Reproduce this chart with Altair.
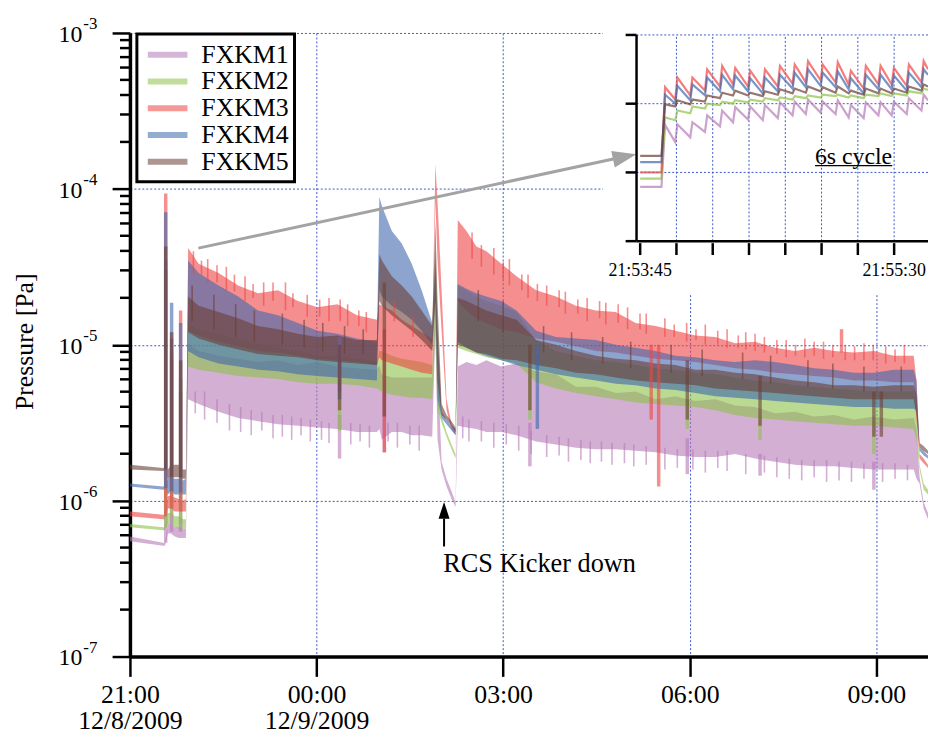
import altair as alt
import numpy as np
import pandas as pd

FONT = "Liberation Serif"
GRID = "#3a58c8"
SERIES = ["FXKM1", "FXKM2", "FXKM3", "FXKM4", "FXKM5"]
COLORS = ["#b57ab5", "#8cc24a", "#ee4444", "#3f68ad", "#6b3f35"]

# ---- main panel: hours after 21:00 (12/8/2009) ----
T = [0.00, 0.535, 0.565, 0.61, 0.66, 0.72, 0.785, 0.85, 0.90,
     0.935, 1.105, 1.425, 1.74, 2.06, 2.38, 2.70, 3.015, 3.335, 3.65, 3.97,
     4.01, 4.05, 4.21, 4.37, 4.53, 4.69, 4.86,
     4.91, 4.945, 5.01, 5.09, 5.17, 5.235,
     5.27, 5.41, 5.57, 5.73, 5.97, 6.215, 6.53, 6.85, 7.17, 7.49, 7.81, 8.13, 8.45,
     8.77, 9.09, 9.41, 9.73, 10.05, 10.37, 10.69, 11.00, 11.32, 11.64, 11.96, 12.28, 12.60,
     12.645, 12.695, 12.76, 12.83]

# log10 of pressure [Pa]: upper / lower edge of each (noisy) trace
HI = {
    "FXKM1": [-6.23, -6.27, -6.27, -6.15, -6.15, -6.17, -6.17, -6.18, -6.18,
              -4.99, -5.04, -5.07, -5.09, -5.11, -5.10, -5.13, -5.11, -5.14, -5.15, -5.16,
              -5.13, -5.19, -5.21, -5.21, -5.21, -5.21, -5.21,
              -4.51, -5.10, -5.75, -5.86, -5.94, -6.01,
              -5.14, -5.11, -5.13, -5.10, -5.14, -5.12, -5.17, -5.19, -5.27, -5.27, -5.31, -5.30, -5.35,
              -5.33, -5.36, -5.35, -5.39, -5.40, -5.44, -5.43, -5.46, -5.45, -5.48, -5.46, -5.48, -5.47,
              -5.54, -5.85, -6.01, -6.08],
    "FXKM2": [-6.15, -6.17, -6.17, -6.08, -6.08, -6.10, -6.10, -6.12, -6.12,
              -4.86, -4.90, -4.93, -4.96, -4.99, -5.02, -5.04, -5.07, -5.07, -5.09, -5.11,
              -5.04, -5.04, -5.07, -5.09, -5.10, -5.11, -5.13,
              -4.38, -4.91, -5.46, -5.56, -5.64, -5.70,
              -4.62, -4.65, -4.69, -4.72, -4.75, -4.79, -4.97, -5.04, -5.07, -5.10, -5.11, -5.13, -5.15,
              -5.16, -5.18, -5.19, -5.21, -5.23, -5.24, -5.26, -5.27, -5.28, -5.29, -5.30, -5.30, -5.30,
              -5.42, -5.77, -5.89, -5.93],
    "FXKM3": [-6.07, -6.09, -6.09, -5.97, -5.97, -5.98, -5.99, -6.00, -5.99,
              -4.38, -4.48, -4.54, -4.62, -4.67, -4.65, -4.72, -4.76, -4.74, -4.81, -4.84,
              -4.74, -4.75, -4.78, -4.84, -4.88, -4.92, -4.96,
              -3.84, -4.08, -4.65, -5.35, -5.51, -5.55,
              -4.20, -4.27, -4.37, -4.40, -4.48, -4.56, -4.65, -4.69, -4.75, -4.78, -4.79, -4.86, -4.88,
              -4.91, -4.94, -4.95, -4.99, -4.98, -5.02, -5.04, -5.02, -5.04, -5.05, -5.04, -5.07, -5.07,
              -5.23, -5.70, -5.73, -5.77],
    "FXKM4": [-5.89, -5.91, -5.91, -5.86, -5.85, -5.86, -5.86, -5.87, -5.86,
              -4.46, -4.54, -4.62, -4.69, -4.78, -4.81, -4.86, -4.91, -4.93, -4.96, -4.98,
              -4.05, -4.11, -4.27, -4.35, -4.48, -4.65, -4.86,
              -4.48, -4.91, -5.43, -5.48, -5.52, -5.54,
              -4.61, -4.64, -4.67, -4.69, -4.72, -4.78, -4.91, -4.95, -4.96, -4.97, -5.00, -5.02, -5.04,
              -5.07, -5.08, -5.10, -5.11, -5.10, -5.11, -5.13, -5.15, -5.16, -5.18, -5.18, -5.16, -5.16,
              -5.23, -5.66, -5.68, -5.71],
    "FXKM5": [-5.77, -5.79, -5.79, -5.80, -5.77, -5.77, -5.77, -5.80, -5.80,
              -4.69, -4.75, -4.79, -4.83, -4.88, -4.90, -4.93, -4.95, -4.94, -4.97, -4.97,
              -4.42, -4.46, -4.56, -4.62, -4.69, -4.78, -4.88,
              -4.21, -4.72, -5.38, -5.45, -5.49, -5.53,
              -4.70, -4.72, -4.75, -4.78, -4.81, -4.84, -4.97, -5.00, -5.04, -5.07, -5.09, -5.10, -5.12,
              -5.13, -5.16, -5.16, -5.18, -5.19, -5.21, -5.23, -5.24, -5.26, -5.26, -5.27, -5.26, -5.26,
              -5.32, -5.63, -5.65, -5.68],
}
LO = {
    "FXKM1": [-6.26, -6.29, -6.29, -6.21, -6.21, -6.23, -6.24, -6.24, -6.24,
              -5.35, -5.38, -5.43, -5.47, -5.49, -5.51, -5.52, -5.53, -5.54, -5.56, -5.56,
              -5.54, -5.61, -5.56, -5.56, -5.58, -5.58, -5.59,
              -4.91, -5.61, -5.80, -5.91, -5.99, -6.04,
              -5.52, -5.53, -5.54, -5.56, -5.56, -5.58, -5.62, -5.64, -5.66, -5.67, -5.67, -5.68, -5.69,
              -5.71, -5.72, -5.72, -5.70, -5.73, -5.75, -5.77, -5.78, -5.78, -5.79, -5.80, -5.80, -5.80,
              -5.86, -5.89, -6.05, -6.12],
    "FXKM2": [-6.17, -6.19, -6.19, -6.15, -6.15, -6.17, -6.18, -6.18, -6.18,
              -5.14, -5.16, -5.18, -5.20, -5.21, -5.22, -5.24, -5.25, -5.25, -5.26, -5.28,
              -5.29, -5.30, -5.32, -5.33, -5.34, -5.34, -5.35,
              -4.91, -5.42, -5.50, -5.59, -5.67, -5.73,
              -5.02, -5.04, -5.06, -5.08, -5.10, -5.12, -5.24, -5.28, -5.31, -5.33, -5.35, -5.37, -5.38,
              -5.39, -5.40, -5.42, -5.45, -5.47, -5.48, -5.49, -5.50, -5.51, -5.52, -5.52, -5.53, -5.54,
              -5.61, -5.80, -5.93, -5.96],
    "FXKM3": [-6.10, -6.12, -6.12, -6.05, -6.05, -6.07, -6.07, -6.07, -6.07,
              -4.91, -4.94, -4.98, -5.01, -5.04, -5.05, -5.07, -5.09, -5.10, -5.11, -5.13,
              -5.08, -5.10, -5.12, -5.14, -5.16, -5.18, -5.19,
              -4.08, -4.46, -4.91, -5.42, -5.54, -5.58,
              -4.72, -4.78, -4.83, -4.86, -4.90, -4.92, -4.96, -4.98, -5.01, -5.04, -5.05, -5.07, -5.09,
              -5.10, -5.11, -5.13, -5.15, -5.16, -5.18, -5.19, -5.20, -5.21, -5.23, -5.23, -5.24, -5.24,
              -5.48, -5.73, -5.76, -5.79],
    "FXKM4": [-5.91, -5.93, -5.93, -5.96, -5.94, -5.96, -5.96, -5.96, -5.96,
              -5.04, -5.08, -5.12, -5.14, -5.16, -5.17, -5.19, -5.20, -5.21, -5.22, -5.23,
              -4.65, -4.69, -4.75, -4.79, -4.84, -4.91, -5.00,
              -4.72, -5.35, -5.47, -5.51, -5.55, -5.58,
              -4.98, -5.02, -5.05, -5.07, -5.10, -5.13, -5.16, -5.19, -5.21, -5.23, -5.25, -5.26, -5.28,
              -5.29, -5.31, -5.33, -5.34, -5.35, -5.36, -5.37, -5.38, -5.39, -5.40, -5.40, -5.41, -5.41,
              -5.42, -5.68, -5.71, -5.73],
    "FXKM5": [-5.80, -5.81, -5.81, -5.86, -5.85, -5.85, -5.85, -5.86, -5.86,
              -4.92, -4.96, -5.00, -5.03, -5.06, -5.07, -5.08, -5.10, -5.11, -5.12, -5.13,
              -4.72, -4.75, -4.81, -4.86, -4.91, -4.97, -5.04,
              -4.72, -5.23, -5.45, -5.48, -5.52, -5.56,
              -5.00, -5.02, -5.05, -5.06, -5.09, -5.10, -5.13, -5.15, -5.18, -5.19, -5.21, -5.23, -5.24,
              -5.25, -5.26, -5.28, -5.29, -5.30, -5.31, -5.32, -5.33, -5.34, -5.35, -5.35, -5.35, -5.35,
              -5.45, -5.66, -5.68, -5.70],
}

# isolated spikes / dips (hours, log10 from, log10 to)
SPIKE_SERIES = ["FXKM1", "FXKM2", "FXKM3", "FXKM4", "FXKM5",
                "FXKM1", "FXKM2", "FXKM3", "FXKM4", "FXKM5",
                "FXKM1", "FXKM2", "FXKM3", "FXKM4", "FXKM5",
                "FXKM1", "FXKM2", "FXKM3", "FXKM4", "FXKM5",
                "FXKM1", "FXKM3", "FXKM5",
                "FXKM1", "FXKM2", "FXKM5", "FXKM4", "FXKM3", "FXKM3",
                "FXKM1", "FXKM2", "FXKM5", "FXKM1", "FXKM2", "FXKM5",
                "FXKM3", "FXKM1", "FXKM2", "FXKM5", "FXKM5"]
SPIKE_T = [0.575, 0.575, 0.575, 0.575, 0.575,
           0.67, 0.67, 0.67, 0.67, 0.67,
           0.815, 0.815, 0.815, 0.815, 0.815,
           3.37, 3.37, 3.37, 3.37, 3.37,
           4.09, 4.09, 4.09,
           6.43, 6.43, 6.43, 6.55, 8.38, 8.50,
           8.96, 8.96, 8.96, 10.13, 10.13, 10.13,
           11.44, 11.96, 11.96, 11.96, 12.08]
SPIKE_FROM = [-6.27, -6.17, -6.10, -5.92, -5.80,
              -6.20, -6.10, -6.05, -5.94, -5.85,
              -6.20, -6.15, -6.07, -5.95, -5.85,
              -5.45, -5.20, -4.95, -4.95, -5.00,
              -5.30, -4.90, -4.60,
              -5.50, -5.20, -5.00, -5.00, -5.00, -5.00,
              -5.60, -5.35, -5.10, -5.70, -5.45, -5.20,
              -5.05, -5.75, -5.50, -5.30, -5.30]
SPIKE_TO = [-4.52, -4.46, -4.03, -4.15, -4.37,
            -5.10, -5.05, -4.96, -4.73, -4.92,
            -5.30, -5.22, -4.78, -4.86, -5.10,
            -5.73, -5.55, -5.30, -5.35, -5.42,
            -5.69, -5.69, -5.46,
            -5.78, -5.48, -5.42, -5.54, -5.48, -5.91,
            -5.83, -5.54, -5.48, -5.84, -5.61, -5.52,
            -4.90, -5.93, -5.70, -5.59, -5.59]

# fine noise excursions at the visible band edges (hours, log10 from, log10 to)
NOISE_FXKM3_T = [1.02, 1.25, 1.55, 1.85, 2.15, 2.50, 2.85, 3.20, 3.50, 3.80, 4.25, 4.55,
                 5.50, 5.85, 6.10, 6.40, 6.70, 7.00, 7.35, 7.65, 8.00, 8.30, 8.60, 8.95,
                 9.25, 9.60, 9.90, 10.20, 10.55, 10.85, 11.15, 11.50, 11.80, 12.15, 12.45,
                 1.15, 1.40, 1.68, 1.98, 2.30, 2.62, 3.05, 3.38, 3.68,
                 5.65, 6.00, 6.30, 6.55, 6.90, 7.20, 7.55, 7.85, 8.20, 8.75, 9.10, 9.45,
                 9.78, 10.05, 10.40, 10.70, 11.00, 11.30, 11.65, 11.95, 12.30]
NOISE_FXKM3_FROM = [-4.55, -4.60, -4.65, -4.72, -4.75, -4.78, -4.82, -4.85, -4.88, -4.92, -4.85, -4.95,
                    -4.45, -4.55, -4.62, -4.70, -4.75, -4.80, -4.85, -4.87, -4.90, -4.93, -4.95, -4.98,
                    -5.00, -5.02, -5.03, -5.05, -5.08, -5.08, -5.09, -5.10, -5.10, -5.12, -5.12,
                    -4.55, -4.60, -4.66, -4.70, -4.72, -4.76, -4.82, -4.85, -4.88,
                    -4.50, -4.58, -4.65, -4.72, -4.76, -4.80, -4.83, -4.86, -4.90, -4.95, -4.97, -5.00,
                    -5.02, -5.04, -5.06, -5.07, -5.07, -5.08, -5.10, -5.10, -5.11]
NOISE_FXKM3_TO = [-4.40, -4.45, -4.50, -4.56, -4.60, -4.60, -4.68, -4.70, -4.74, -4.79, -4.72, -4.82,
                  -4.28, -4.38, -4.45, -4.55, -4.62, -4.66, -4.70, -4.73, -4.76, -4.80, -4.83, -4.86,
                  -4.87, -4.90, -4.92, -4.95, -4.97, -4.96, -4.98, -5.00, -4.99, -5.01, -5.00,
                  -4.46, -4.49, -4.55, -4.61, -4.60, -4.67, -4.71, -4.71, -4.78,
                  -4.36, -4.47, -4.55, -4.61, -4.65, -4.71, -4.72, -4.74, -4.80, -4.87, -4.90, -4.91,
                  -4.94, -4.93, -4.97, -5.00, -4.98, -5.00, -5.01, -5.00, -5.03]
NOISE_FXKM1_T = [1.20, 1.60, 1.95, 2.30, 2.60, 2.90, 3.20, 3.55, 3.85, 4.30, 4.65,
                 5.45, 5.85, 6.25, 6.70, 7.05, 7.40, 7.75, 8.10, 8.60, 9.25, 9.60,
                 10.40, 10.80, 11.20, 11.60, 12.30,
                 1.05, 1.40, 1.78, 2.12, 2.45, 2.75, 3.08, 3.70, 4.15, 4.50,
                 5.35, 5.65, 6.05, 6.45, 6.90, 7.25, 7.58, 7.95, 8.30, 8.80, 9.05, 9.45,
                 9.90, 10.20, 10.60, 11.00, 11.40, 11.80, 12.10, 12.50]
NOISE_FXKM1_FROM = [-5.30, -5.38, -5.42, -5.45, -5.46, -5.48, -5.50, -5.50, -5.52, -5.50, -5.52,
                    -5.48, -5.50, -5.52, -5.58, -5.60, -5.62, -5.63, -5.64, -5.66, -5.68, -5.68,
                    -5.72, -5.74, -5.74, -5.75, -5.76,
                    -5.30, -5.35, -5.40, -5.43, -5.45, -5.47, -5.49, -5.51, -5.50, -5.52,
                    -5.46, -5.49, -5.51, -5.55, -5.59, -5.61, -5.62, -5.63, -5.65, -5.67, -5.67, -5.68,
                    -5.70, -5.71, -5.73, -5.74, -5.75, -5.76, -5.76, -5.77]
NOISE_FXKM1_TO = [-5.48, -5.55, -5.58, -5.60, -5.61, -5.62, -5.63, -5.64, -5.66, -5.66, -5.68,
                  -5.62, -5.66, -5.68, -5.72, -5.75, -5.76, -5.77, -5.78, -5.80, -5.82, -5.81,
                  -5.85, -5.87, -5.88, -5.88, -5.86,
                  -5.44, -5.50, -5.56, -5.55, -5.59, -5.58, -5.61, -5.62, -5.62, -5.64,
                  -5.60, -5.62, -5.64, -5.70, -5.71, -5.74, -5.75, -5.76, -5.77, -5.79, -5.80, -5.79,
                  -5.83, -5.82, -5.86, -5.85, -5.87, -5.86, -5.88, -5.87]
NOISE_FXKM5_T = [1.00, 1.35, 1.70, 2.00, 2.45, 2.80, 3.10, 3.45, 3.75,
                 5.60, 6.00, 6.65, 7.10, 7.60, 8.05, 8.70, 9.20, 9.85, 10.30, 10.90,
                 11.30, 11.80, 12.40]
NOISE_FXKM5_FROM = [-4.85, -4.90, -4.95, -4.98, -5.00, -5.02, -5.04, -5.06, -5.06,
                    -4.85, -4.92, -5.05, -5.10, -5.12, -5.15, -5.18, -5.20, -5.22, -5.25, -5.27,
                    -5.28, -5.30, -5.30]
NOISE_FXKM5_TO = [-4.62, -4.68, -4.74, -4.78, -4.80, -4.84, -4.86, -4.88, -4.90,
                  -4.65, -4.72, -4.88, -4.92, -4.95, -4.98, -5.00, -5.03, -5.05, -5.07, -5.10,
                  -5.12, -5.14, -5.14]

DECADES = [-7, -6, -5, -4, -3]
EXP_LABELS = ["-7", "-6", "-5", "-4", "-3"]
MINOR_MULT = [2, 3, 4, 5, 6, 7, 8, 9]
XTICK_H = [0, 3, 6, 9, 12]
XTICK_TIME = ["21:00", "00:00", "03:00", "06:00", "09:00"]
XTICK_DATE = ["12/8/2009", "12/9/2009", "", "", ""]

# ---- inset: seconds after 21:53:45 ----
INSET_PEAK_T = [10.3, 15.4, 21.6, 27.7, 33.9, 39.3, 45.5, 51.6, 57.8, 63.9,
                69.4, 75.5, 81.7, 87.1, 93.3, 99.4, 104.9, 111.1, 117.2]
INSET_TROUGH_T = [14.5, 20.7, 26.8, 33.0, 38.4, 44.6, 50.7, 56.9, 63.0,
                  68.5, 74.6, 80.8, 86.2, 92.4, 98.5, 104.0, 110.2, 116.3]
INSET_START_T, INSET_STEP_T, INSET_END_T = 0.0, 8.8, 119.0
INSET_BASE = {"FXKM1": -6.21, "FXKM2": -6.09, "FXKM3": -6.00, "FXKM4": -5.85, "FXKM5": -5.76}
INSET_PEAK = {
    "FXKM1": [-5.31, -5.30, -5.27, -5.17, -5.10, -5.05, -5.04, -5.02, -4.98, -4.97,
              -4.94, -4.97, -4.95, -5.02, -4.98, -4.98, -4.97, -4.92, -4.87],
    "FXKM2": [-5.20, -5.10, -5.04, -5.00, -4.97, -4.95, -4.94, -4.92, -4.91, -4.89,
              -4.88, -4.87, -4.87, -4.88, -4.87, -4.85, -4.85, -4.82, -4.78],
    "FXKM3": [-4.76, -4.62, -4.62, -4.50, -4.45, -4.48, -4.52, -4.50, -4.45, -4.43,
              -4.38, -4.43, -4.40, -4.52, -4.45, -4.45, -4.48, -4.43, -4.38],
    "FXKM4": [-4.87, -4.74, -4.72, -4.62, -4.58, -4.59, -4.63, -4.62, -4.58, -4.55,
              -4.50, -4.55, -4.53, -4.63, -4.58, -4.58, -4.59, -4.55, -4.50],
    "FXKM5": [-5.01, -4.95, -4.94, -4.88, -4.84, -4.81, -4.84, -4.82, -4.79, -4.78,
              -4.75, -4.76, -4.75, -4.81, -4.78, -4.78, -4.78, -4.75, -4.72],
}
INSET_TROUGH = {
    "FXKM1": [-5.56, -5.49, -5.41, -5.33, -5.27, -5.23, -5.24, -5.21, -5.17,
              -5.15, -5.13, -5.15, -5.20, -5.21, -5.17, -5.17, -5.15, -5.10],
    "FXKM2": [-5.24, -5.14, -5.07, -5.02, -5.00, -4.98, -4.97, -4.95, -4.94,
              -4.92, -4.91, -4.89, -4.91, -4.92, -4.89, -4.89, -4.88, -4.85],
    "FXKM3": [-4.94, -4.88, -4.81, -4.75, -4.72, -4.75, -4.78, -4.75, -4.71,
              -4.69, -4.66, -4.69, -4.72, -4.78, -4.72, -4.72, -4.74, -4.69],
    "FXKM4": [-5.00, -4.95, -4.88, -4.82, -4.79, -4.82, -4.85, -4.82, -4.78,
              -4.76, -4.74, -4.76, -4.79, -4.85, -4.79, -4.79, -4.81, -4.76],
    "FXKM5": [-5.04, -5.01, -4.97, -4.92, -4.88, -4.88, -4.89, -4.87, -4.85,
              -4.84, -4.82, -4.84, -4.85, -4.87, -4.85, -4.85, -4.84, -4.81],
}
INSET_END = {"FXKM1": -4.95, "FXKM2": -4.80, "FXKM3": -4.50, "FXKM4": -4.58, "FXKM5": -4.75}
INSET_TICKS = [0, 15, 30, 45, 60, 75, 90, 105]
INSET_TICK_LABELS = ["21:53:45", "", "", "", "", "", "", "21:55:30"]
INSET_DECADES = [-7, -6, -5, -4]

# ================= data frames =================
band = pd.DataFrame([
    {"series": s, "h": t, "lo": 10.0 ** lo, "hi": 10.0 ** hi}
    for s in SERIES for t, lo, hi in zip(T, LO[s], HI[s])
])
spikes = pd.DataFrame({"series": SPIKE_SERIES, "h": SPIKE_T,
                       "a": np.power(10.0, SPIKE_FROM), "b": np.power(10.0, SPIKE_TO)})
noise = pd.concat([
    pd.DataFrame({"series": name, "h": t, "a": np.power(10.0, f), "b": np.power(10.0, to)})
    for name, t, f, to in [
        ("FXKM1", NOISE_FXKM1_T, NOISE_FXKM1_FROM, NOISE_FXKM1_TO),
        ("FXKM3", NOISE_FXKM3_T, NOISE_FXKM3_FROM, NOISE_FXKM3_TO),
        ("FXKM5", NOISE_FXKM5_T, NOISE_FXKM5_FROM, NOISE_FXKM5_TO),
    ]
], ignore_index=True)

inset_rows = []
for s in SERIES:
    pts = [(INSET_START_T, INSET_BASE[s]), (INSET_STEP_T, INSET_BASE[s])]
    for i, (tp, vp) in enumerate(zip(INSET_PEAK_T, INSET_PEAK[s])):
        pts.append((tp, vp))
        if i < len(INSET_TROUGH_T):
            pts.append((INSET_TROUGH_T[i], INSET_TROUGH[s][i]))
    pts.append((INSET_END_T, INSET_END[s]))
    for k, (t, v) in enumerate(pts):
        inset_rows.append({"series": s, "t": t, "v": 10.0 ** v, "k": k})
inset_df = pd.DataFrame(inset_rows)

# ================= scales =================
xs = alt.Scale(domain=[0, 12.83], nice=False, zero=False)
ys = alt.Scale(type="log", domain=[1e-7, 1e-3], nice=False)
ixs = alt.Scale(domain=[-1.5, 119.0], range=[511, 805], nice=False, zero=False)
iys = alt.Scale(type="log", domain=[1e-7, 1e-4], range=[210, 2], nice=False)
fill_scale = alt.Scale(domain=SERIES, range=COLORS)
stroke_scale = alt.Scale(domain=SERIES, range=COLORS)

expr = "''"
for h, tm, dt in reversed(list(zip(XTICK_H, XTICK_TIME, XTICK_DATE))):
    lab = f"['{tm}','{dt}']" if dt else f"'{tm}'"
    expr = f"datum.value == {h} ? {lab} : ({expr})"

x_axis = alt.Axis(values=XTICK_H, labelExpr=expr, title=None, tickSize=20, tickWidth=2.5,
                  domainWidth=3.5, labelFontSize=26, labelPadding=5, labelLineHeight=27,
                  labelFlush=False, labelOverlap=False, labelBound=False,
                  grid=True, gridColor=GRID, gridDash=[2, 2], gridWidth=1)
y_axis = alt.Axis(values=[10.0 ** d for d in DECADES], labels=False, tickSize=18, tickWidth=2.5,
                  domainWidth=3.5, grid=True, gridColor=GRID, gridDash=[2, 2], gridWidth=1,
                  title="Pressure [Pa]", titleFontSize=26, titleFontWeight="normal",
                  titleX=-106, titleY=311, titleAngle=270, titleAlign="center",
                  titleBaseline="middle")

# ================= main panel =================
areas = alt.Chart(band).mark_area(fillOpacity=0.6, clip=True).encode(
    x=alt.X("h:Q", scale=xs, axis=x_axis),
    y=alt.Y("lo:Q", scale=ys, axis=y_axis, stack=None),
    y2="hi:Q",
    fill=alt.Fill("series:N", scale=fill_scale, legend=alt.Legend(
        title=None, orient="none", legendX=6, legendY=0, symbolType="stroke",
        symbolSize=1600, symbolStrokeWidth=6, symbolOpacity=0.55,
        symbolStrokeColor={"expr": "scale('fill', datum.value)"},
        labelFont=FONT, labelFontSize=26, labelColor="black", labelOffset=11,
        padding=9, rowPadding=1, clipHeight=26)),
)

noise_layer = alt.Chart(noise).mark_rule(strokeWidth=1.6, opacity=0.6).encode(
    x=alt.X("h:Q", scale=xs, axis=None),
    y=alt.Y("a:Q", scale=ys, axis=None),
    y2="b:Q",
    stroke=alt.Stroke("series:N", scale=stroke_scale, legend=None),
)

spike_layer = alt.Chart(spikes).mark_rule(strokeWidth=3.5, opacity=0.6).encode(
    x=alt.X("h:Q", scale=xs, axis=None),
    y=alt.Y("a:Q", scale=ys, axis=None),
    y2="b:Q",
    stroke=alt.Stroke("series:N", scale=stroke_scale, legend=None),
)

# white box with a heavy frame behind the legend entries
legend_box = alt.Chart(pd.DataFrame({"k": [0]})).mark_rect(
    fill="white", stroke="black", strokeWidth=3).encode(
    x=alt.value(7), x2=alt.value(166), y=alt.value(1), y2=alt.value(150))

bg = alt.Chart(pd.DataFrame({"k": [0]})).mark_rect(fill="white").encode(
    x=alt.value(477), x2=alt.value(805), y=alt.value(-4), y2=alt.value(263))

minor_df = pd.DataFrame({"v": [m * 10.0 ** d for d in DECADES[:-1] for m in MINOR_MULT]})
minor = alt.Chart(minor_df).mark_rule(color="black", strokeWidth=2.5).encode(
    y=alt.Y("v:Q", scale=ys, axis=None), x=alt.value(-10), x2=alt.value(0))

ylab_df = pd.DataFrame({"v": [10.0 ** d for d in DECADES], "base": ["10"] * len(DECADES),
                        "sup": EXP_LABELS})
ylab_base = alt.Chart(ylab_df).mark_text(font=FONT, fontSize=24, align="right",
                                         baseline="middle", dy=2, color="black").encode(
    y=alt.Y("v:Q", scale=ys, axis=None), x=alt.value(-48), text="base:N")
ylab_sup = alt.Chart(ylab_df).mark_text(font=FONT, fontSize=17, align="left",
                                        baseline="middle", dy=-9, color="black").encode(
    y=alt.Y("v:Q", scale=ys, axis=None), x=alt.value(-47), text="sup:N")

KICK_H = 5.05
kick_shaft = alt.Chart(pd.DataFrame({"h": [KICK_H], "a": [10 ** -6.294], "b": [10 ** -6.116]})) \
    .mark_rule(color="black", strokeWidth=2).encode(
    x=alt.X("h:Q", scale=xs, axis=None), y=alt.Y("a:Q", scale=ys, axis=None), y2="b:Q")
kick_head = alt.Chart(pd.DataFrame({"h": [KICK_H], "v": [10 ** -6.062]})).mark_point(
    shape="M0,-1L0.65,1L-0.65,1Z", size=289, filled=True, color="black", opacity=1).encode(
    x=alt.X("h:Q", scale=xs, axis=None), y=alt.Y("v:Q", scale=ys, axis=None))
kick_txt = alt.Chart(pd.DataFrame({"h": [5.037], "v": [10 ** -6.408], "t": ["RCS Kicker down"]})) \
    .mark_text(font=FONT, fontSize=26.5, align="left", baseline="middle", color="black").encode(
    x=alt.X("h:Q", scale=xs, axis=None), y=alt.Y("v:Q", scale=ys, axis=None), text="t:N")

arrow_line = alt.Chart(pd.DataFrame({"h1": [1.10], "h2": [7.826],
                                     "v1": [10 ** -4.380], "v2": [10 ** -3.804]})) \
    .mark_rule(color="#a3a3a3", strokeWidth=3).encode(
    x=alt.X("h1:Q", scale=xs, axis=None), x2="h2:Q",
    y=alt.Y("v1:Q", scale=ys, axis=None), y2="v2:Q")
arrow_head = alt.Chart(pd.DataFrame({"h": [7.953], "v": [10 ** -3.794]})).mark_point(
    shape="M1,0L-1,-0.7L-1,0.7Z", size=576, angle=347.9, filled=True,
    color="#a3a3a3", opacity=1).encode(
    x=alt.X("h:Q", scale=xs, axis=None), y=alt.Y("v:Q", scale=ys, axis=None))

# ================= inset =================
ig_v = alt.Chart(pd.DataFrame({"t": INSET_TICKS[1:], "a": 1e-7, "b": 1e-4})).mark_rule(
    color=GRID, strokeDash=[2, 2], strokeWidth=1).encode(
    x=alt.X("t:Q", scale=ixs, axis=None), y=alt.Y("a:Q", scale=iys, axis=None), y2="b:Q")
ig_h = alt.Chart(pd.DataFrame({"v": [10.0 ** d for d in INSET_DECADES[1:]],
                               "t1": -1.5, "t2": INSET_END_T})).mark_rule(
    color=GRID, strokeDash=[2, 2], strokeWidth=1).encode(
    y=alt.Y("v:Q", scale=iys, axis=None), x=alt.X("t1:Q", scale=ixs, axis=None), x2="t2:Q")
ilines = alt.Chart(inset_df).mark_line(strokeWidth=2.2, opacity=0.7, clip=True).encode(
    x=alt.X("t:Q", scale=ixs, axis=None),
    y=alt.Y("v:Q", scale=iys, axis=None),
    stroke=alt.Stroke("series:N", scale=stroke_scale, legend=None),
    order="k:Q",
)
iax_y = alt.Chart(pd.DataFrame({"t": [-1.5], "a": [1e-7], "b": [1e-4]})).mark_rule(
    color="black", strokeWidth=2.5).encode(
    x=alt.X("t:Q", scale=ixs, axis=None), y=alt.Y("a:Q", scale=iys, axis=None), y2="b:Q")
iax_x = alt.Chart(pd.DataFrame({"v": [1e-7], "t1": [-1.5], "t2": [INSET_END_T]})).mark_rule(
    color="black", strokeWidth=2.5).encode(
    y=alt.Y("v:Q", scale=iys, axis=None), x=alt.X("t1:Q", scale=ixs, axis=None), x2="t2:Q")
itick_y = alt.Chart(pd.DataFrame({"v": [10.0 ** d for d in INSET_DECADES]})).mark_rule(
    color="black", strokeWidth=2.5).encode(
    y=alt.Y("v:Q", scale=iys, axis=None), x=alt.value(500), x2=alt.value(511))
itick_df = pd.DataFrame({"t": INSET_TICKS, "lab": INSET_TICK_LABELS})
itick_x = alt.Chart(itick_df).mark_rule(color="black", strokeWidth=2.5).encode(
    x=alt.X("t:Q", scale=ixs, axis=None), y=alt.value(212), y2=alt.value(224))
itick_lab = alt.Chart(itick_df).mark_text(font=FONT, fontSize=18, align="center",
                                          baseline="middle", color="black").encode(
    x=alt.X("t:Q", scale=ixs, axis=None), y=alt.value(240), text="lab:N")
cyc_txt = alt.Chart(pd.DataFrame({"t": [88.2], "v": [10 ** -5.774], "s": ["6s cycle"]})).mark_text(
    font=FONT, fontSize=24, align="center", baseline="middle", color="black").encode(
    x=alt.X("t:Q", scale=ixs, axis=None), y=alt.Y("v:Q", scale=iys, axis=None), text="s:N")
cyc_line = alt.Chart(pd.DataFrame({"t1": [72.3], "t2": [104.2], "v": [10 ** -5.90]})).mark_rule(
    color="black", strokeWidth=1.2).encode(
    x=alt.X("t1:Q", scale=ixs, axis=None), x2="t2:Q", y=alt.Y("v:Q", scale=iys, axis=None))

chart = alt.layer(
    areas, noise_layer, spike_layer, legend_box, bg, minor, ylab_base, ylab_sup,
    kick_shaft, kick_head, kick_txt, arrow_line, arrow_head,
    ig_v, ig_h, ilines, iax_y, iax_x, itick_y, itick_x, itick_lab, cyc_txt, cyc_line,
).resolve_scale(x="independent", y="independent").properties(
    width=805, height=629,
    padding={"left": 123, "top": 22, "right": 0, "bottom": 81},
    autosize=alt.AutoSizeParams(type="none"),
).configure_view(stroke=None).configure_axis(
    labelFont=FONT, titleFont=FONT, labelColor="black", titleColor="black",
    tickColor="black", domainColor="black",
).configure_legend(labelFont=FONT)

chart.save("out.html", embed_options={"renderer": "svg", "actions": False})
